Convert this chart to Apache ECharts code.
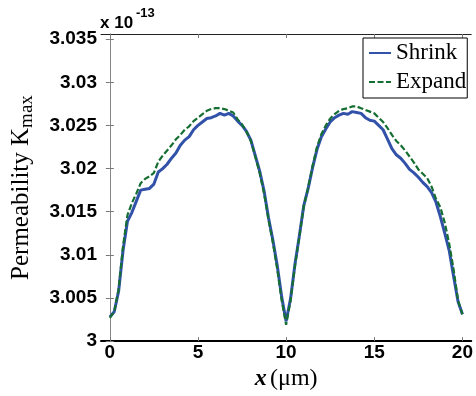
<!DOCTYPE html>
<html>
<head>
<meta charset="utf-8">
<script src="https://cdn.jsdelivr.net/npm/echarts@6/dist/echarts.min.js"></script>
<style>html,body{margin:0;padding:0;background:#fff;}#c{width:476px;height:396px;}</style>
</head>
<body>
<div id="c"></div>
<script>
// x positions (um)
const xValues = [0,0.25,0.5,0.75,1,1.25,1.5,1.75,2,2.25,2.5,2.75,3,3.25,3.5,3.75,4,4.25,4.5,4.75,5,5.25,5.5,5.75,6,6.25,6.5,6.75,7,7.25,7.5,7.75,8,8.25,8.5,8.75,9,9.25,9.5,9.75,10,10.25,10.5,10.75,11,11.25,11.5,11.75,12,12.25,12.5,12.75,13,13.25,13.5,13.75,14,14.25,14.5,14.75,15,15.25,15.5,15.75,16,16.25,16.5,16.75,17,17.25,17.5,17.75,18,18.25,18.5,18.75,19,19.25,19.5,19.75,20];
// Permeability K_max (x 1e-13)
const shrink = [3.0028,3.0034,3.0058,3.0105,3.0139,3.0149,3.0162,3.0175,3.0176,3.0177,3.0182,3.0196,3.0200,3.0205,3.0212,3.0218,3.0227,3.0233,3.0237,3.0245,3.0250,3.0254,3.0258,3.0259,3.0261,3.0264,3.0262,3.0264,3.0261,3.0255,3.0250,3.0243,3.0233,3.0215,3.0197,3.0174,3.0143,3.0117,3.0087,3.0051,3.0023,3.0049,3.0089,3.0122,3.0157,3.0177,3.0201,3.0222,3.0237,3.0246,3.0254,3.0259,3.0262,3.0264,3.0263,3.0266,3.0265,3.0264,3.0259,3.0256,3.0255,3.0250,3.0245,3.0234,3.0223,3.0216,3.0212,3.0206,3.0199,3.0195,3.0190,3.0184,3.0179,3.0172,3.0161,3.0144,3.0125,3.0105,3.0075,3.0046,3.0031];
const expand = [3.0027,3.0034,3.0060,3.0110,3.0146,3.0160,3.0171,3.0183,3.0188,3.0191,3.0195,3.0208,3.0215,3.0221,3.0227,3.0234,3.0239,3.0245,3.0249,3.0255,3.0259,3.0263,3.0267,3.0269,3.0270,3.0270,3.0269,3.0267,3.0265,3.0257,3.0251,3.0243,3.0232,3.0214,3.0195,3.0171,3.0141,3.0114,3.0083,3.0047,3.0019,3.0047,3.0087,3.0121,3.0156,3.0178,3.0203,3.0225,3.0240,3.0250,3.0258,3.0263,3.0267,3.0269,3.0270,3.0272,3.0272,3.0270,3.0268,3.0266,3.0264,3.0259,3.0254,3.0247,3.0239,3.0232,3.0227,3.0221,3.0214,3.0207,3.0199,3.0194,3.0189,3.0179,3.0165,3.0155,3.0137,3.0113,3.0083,3.0047,3.0031];
const xTicks = [0,5,10,15,20];
const yTicks = [3,3.005,3.01,3.015,3.02,3.025,3.03,3.035];
const seriesNames = ['Shrink','Expand'];

const chart = echarts.init(document.getElementById('c'), null, {renderer:'canvas'});
const sans = 'Liberation Sans';
const serif = 'Liberation Serif';
const fmt = v => String(+(+v).toFixed(3));
chart.setOption({
  animation:false,
  backgroundColor:'#fff',
  grid:{left:101,right:1,top:34,bottom:48},
  legend:{
    show:true, left:363, top:38, orient:'vertical',
    data:seriesNames,
    backgroundColor:'#fff', borderColor:'#000', borderWidth:1, borderRadius:0,
    padding:[2,1,3,5], itemGap:3, itemWidth:22, itemHeight:14,
    itemStyle:{color:'rgba(0,0,0,0)',borderWidth:0,opacity:0},
    textStyle:{fontFamily:serif,fontSize:23,color:'#000',lineHeight:26}
  },
  xAxis:[{
    type:'value', min:-0.5, max:20.5, position:'bottom',
    name:'{i|x} {n|(\u03bcm)}', nameLocation:'middle', nameGap:17,
    nameTextStyle:{rich:{i:{fontFamily:serif,fontSize:24,fontStyle:'italic',fontWeight:'bold',color:'#000'},n:{fontFamily:serif,fontSize:24,color:'#000'}}},
    axisLine:{show:true,lineStyle:{color:'#000',width:2}},
    axisTick:{show:true,inside:true,length:4,lineStyle:{color:'#777'},customValues:xTicks},
    axisLabel:{fontFamily:sans,fontWeight:'bold',fontSize:19,color:'#000',margin:2,customValues:xTicks,formatter:fmt},
    splitLine:{show:false}
  },{
    type:'value', min:-0.5, max:20.5, position:'top',
    axisLine:{show:true,lineStyle:{color:'#222',width:1}},
    axisTick:{show:true,inside:true,length:4,lineStyle:{color:'#777'},customValues:xTicks},
    axisLabel:{show:false}, splitLine:{show:false}
  }],
  yAxis:[{
    type:'value', min:3, max:3.0356, position:'left',
    name:'{a|Permeability K}{b|max}', nameLocation:'middle', nameGap:64, nameRotate:90,
    nameTextStyle:{rich:{a:{fontFamily:serif,fontSize:25,color:'#000',lineHeight:32,verticalAlign:'middle'},b:{fontFamily:serif,fontSize:19,color:'#000',verticalAlign:'bottom',lineHeight:32}}},
    axisLine:{show:true,lineStyle:{color:'#888',width:1}},
    axisTick:{show:true,inside:true,length:4,lineStyle:{color:'#777'},customValues:yTicks},
    axisLabel:{fontFamily:sans,fontWeight:'bold',fontSize:19,color:'#000',margin:4,customValues:yTicks,formatter:fmt},
    splitLine:{show:false}
  },{
    type:'value', min:3, max:3.0356, position:'right',
    axisLine:{show:true,lineStyle:{color:'#888',width:1}},
    axisTick:{show:true,inside:true,length:4,lineStyle:{color:'#777'},customValues:yTicks},
    axisLabel:{show:false}, splitLine:{show:false}
  }],
  graphic:[
    {type:'text',left:100,top:15,style:{text:'x 10',fontFamily:sans,fontWeight:'bold',fontSize:17,fill:'#000'}},
    {type:'text',left:136,top:7,style:{text:'-13',fontFamily:sans,fontWeight:'bold',fontSize:13,fill:'#000'}}
  ],
  series:[
    {name:seriesNames[0],type:'line',xAxisIndex:0,yAxisIndex:0,symbol:'none',
     data:xValues.map((x,i)=>[x,shrink[i]]),
     lineStyle:{color:'#3252aa',width:3},itemStyle:{color:'#3252aa'},z:2},
    {name:seriesNames[1],type:'line',xAxisIndex:0,yAxisIndex:0,symbol:'none',
     data:xValues.map((x,i)=>[x,expand[i]]),
     lineStyle:{color:'#156e32',width:2.2,type:[6,2.5]},itemStyle:{color:'#156e32'},z:3}
  ]
});
</script>
</body>
</html>
